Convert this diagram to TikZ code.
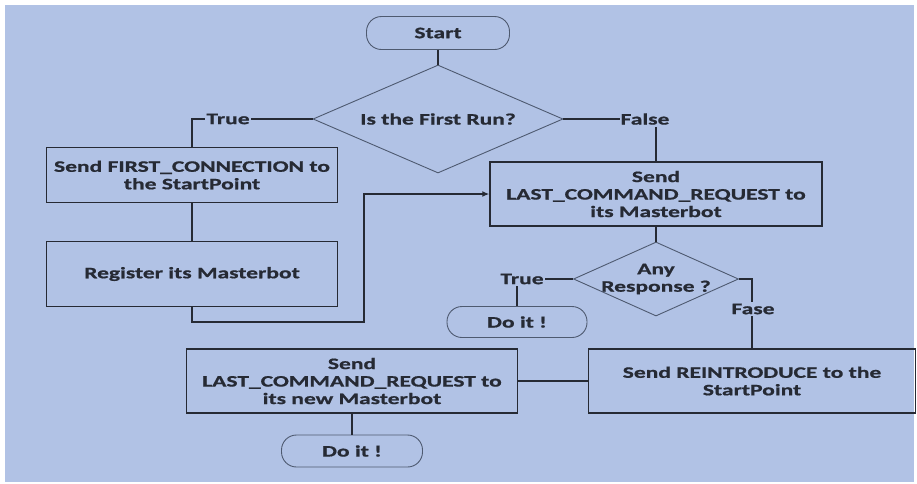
\documentclass[tikz,border=0pt]{standalone}
\usepackage{fontspec}
\setmainfont{Carlito}[FakeStretch=1.47, BoldFeatures={FakeBold=0.8}]
\usetikzlibrary{shapes.geometric,arrows.meta}
\definecolor{bg}{RGB}{177,194,229}
\definecolor{ink}{RGB}{38,42,52}
\definecolor{edge}{RGB}{78,90,112}
\tikzset{
  txt/.style={font=\bfseries\fontsize{16}{17.5}\selectfont, text=ink, align=center, inner sep=0pt},
  box/.style={txt, draw=ink, line width=1.5pt, rectangle},
  term/.style={txt, draw=edge, line width=0.9pt, rectangle, rounded corners=15pt},
  decision/.style={draw=edge, line width=0.9pt, diamond, inner sep=0pt},
  tag/.style={txt, fill=bg, inner xsep=1pt, inner ysep=2pt},
  link/.style={draw=ink, line width=1.3pt},
}
\begin{document}
\begin{tikzpicture}[x=1pt,y=-1pt]
  \useasboundingbox (0,0) rectangle (917,483);
  \fill[bg] (5,5) rectangle (914,482);

  % terminals
  \node[term, minimum width=143pt, minimum height=33pt] (start) at (438,33) {Start};
  \node[term, minimum width=140pt, minimum height=31pt] (do1) at (517,322) {Do it !};
  \node[term, minimum width=141pt, minimum height=32pt] (do2) at (352,451) {Do it !};

  % decisions
  \node[decision, minimum width=250pt, minimum height=108pt] (d1) at (438,119) {};
  \node[txt] at (d1) {Is the First Run?};
  \node[decision, minimum width=165pt, minimum height=74pt] (d2) at (656,279) {};
  \node[txt] at (d2) {Any\\Response ?};

  % process boxes
  \node[box, minimum width=291pt, minimum height=55pt] (b1) at (192,175)
    {Send FIRST\_CONNECTION to\\the StartPoint};
  \node[box, minimum width=291pt, minimum height=65pt] (b2) at (192,274)
    {Register its Masterbot};
  \node[box, minimum width=332pt, minimum height=64pt] (b3) at (656,194)
    {Send\\LAST\_COMMAND\_REQUEST to\\its Masterbot};
  \node[box, minimum width=327pt, minimum height=64pt] (b4) at (752,381)
    {Send REINTRODUCE to the\\StartPoint};
  \node[box, minimum width=331pt, minimum height=64pt] (b5) at (352,381)
    {Send\\LAST\_COMMAND\_REQUEST to\\its new Masterbot};

  \coordinate (loop) at (364,322);

  % connectors
  \draw[link] (start) -- (d1);
  \draw[link] (d1.west) -| (b1.north);
  \draw[link] (d1.east) -| (b3.north);
  \draw[link] (b1) -- (b2);
  \draw[link, -{Latex[length=7pt,width=6pt]}] (b2.south) |- (loop) |- (b3.west);
  \draw[link] (b3) -- (d2);
  \draw[link] (d2.west) -| (do1.north);
  \draw[link] (d2.east) -| (b4.north);
  \draw[link] (b4.west) -- (b5.east);
  \draw[link] (b5) -- (do2);

  % branch labels
  \node[tag] (t1) at (228,119) {True};
  \node[tag] (f1) at (645,119) {False};
  \node[tag] (t2) at (522,279) {True};
  \node[tag] (f2) at (753,309) {Fase};
\end{tikzpicture}
\end{document}
